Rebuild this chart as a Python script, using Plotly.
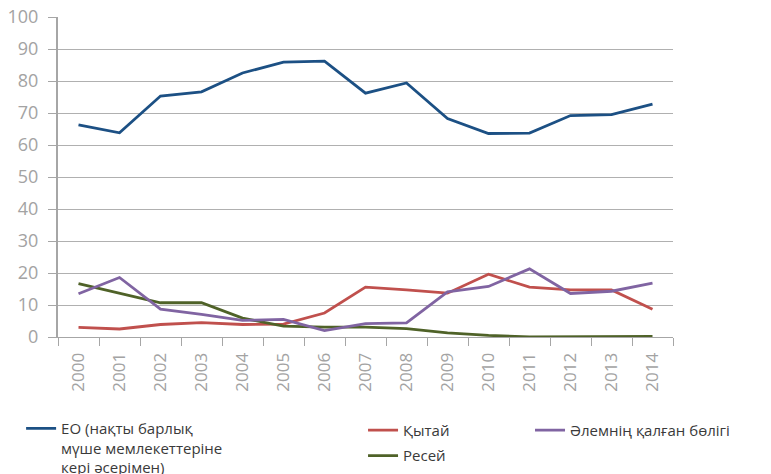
import plotly.graph_objects as go

years = [str(y) for y in range(2000, 2015)]
eu = [66.3, 63.8, 75.3, 76.6, 82.5, 85.9, 86.2, 76.2, 79.4, 68.3, 63.6, 63.7, 69.2, 69.5, 72.8]
china = [3.0, 2.5, 3.9, 4.5, 3.9, 4.0, 7.5, 15.6, 14.7, 13.7, 19.6, 15.6, 14.7, 14.7, 8.7]
russia = [16.7, 13.8, 10.7, 10.7, 5.9, 3.4, 3.1, 3.1, 2.6, 1.3, 0.5, 0.0, 0.0, 0.0, 0.2]
rest = [13.5, 18.6, 8.7, 7.1, 5.2, 5.5, 2.0, 4.2, 4.4, 14.1, 15.8, 21.3, 13.6, 14.3, 16.8]
yticks = [0, 10, 20, 30, 40, 50, 60, 70, 80, 90, 100]

names = {
    "eu": "ЕО (нақты барлық<br>мүше мемлекеттеріне<br>кері әсерімен)",
    "china": "Қытай",
    "russia": "Ресей",
    "rest": "Әлемнің қалған бөлігі",
}
colors = {"eu": "#1c5084", "china": "#c0504d", "russia": "#4f6228", "rest": "#8064a2"}

fig = go.Figure()
fig.add_trace(go.Scatter(x=years, y=eu, mode="lines", name=names["eu"],
                         line=dict(color=colors["eu"], width=2.8), legend="legend"))
fig.add_trace(go.Scatter(x=years, y=china, mode="lines", name=names["china"],
                         line=dict(color=colors["china"], width=2.8), legend="legend2",
                         legendgroup="a"))
fig.add_trace(go.Scatter(x=years, y=russia, mode="lines", name=names["russia"],
                         line=dict(color=colors["russia"], width=2.8), legend="legend2",
                         legendgroup="b"))
fig.add_trace(go.Scatter(x=years, y=rest, mode="lines", name=names["rest"],
                         line=dict(color=colors["rest"], width=2.8), legend="legend3"))
for tr in fig.data:
    tr.cliponaxis = False

legfont = dict(family="Open Sans, sans-serif", size=15, color="#3a3a3a")
common = dict(orientation="v", yanchor="top", xanchor="left", font=legfont,
              bgcolor="rgba(0,0,0,0)", valign="top", itemwidth=30)

fig.update_layout(
    width=771, height=474,
    margin=dict(l=58, r=98, t=17, b=137, autoexpand=False),
    paper_bgcolor="white", plot_bgcolor="white",
    font=dict(family="Open Sans, sans-serif", color="#999999"),
    xaxis=dict(type="category", tickson="boundaries", ticks="outside", ticklen=8,
               tickcolor="#a6a6a6", showline=True, linecolor="#a6a6a6", linewidth=1,
               tickangle=-90, tickfont=dict(size=17, color="#a3a3a3"), showgrid=False,
               range=[-0.5, 14.5], automargin=False, ticklabelstandoff=8),
    yaxis=dict(range=[0, 100], tickvals=yticks, ticks="outside", ticklen=8,
               tickcolor="#a6a6a6", showline=True, linecolor="#a6a6a6", linewidth=2,
               gridcolor="#b0b0b0", gridwidth=1, tickfont=dict(size=18, color="#a3a3a3"),
               zeroline=False, automargin=False, ticklabelstandoff=6),
    legend=dict(x=-0.060, y=-0.235, **common),
    legend2=dict(x=0.496, y=-0.24, tracegroupgap=3, **common),
    legend3=dict(x=0.7675, y=-0.24, **common),
    showlegend=True,
)

fig.write_html("out.html", config={"displayModeBar": False},
               post_script="document.body.style.margin='0';")
